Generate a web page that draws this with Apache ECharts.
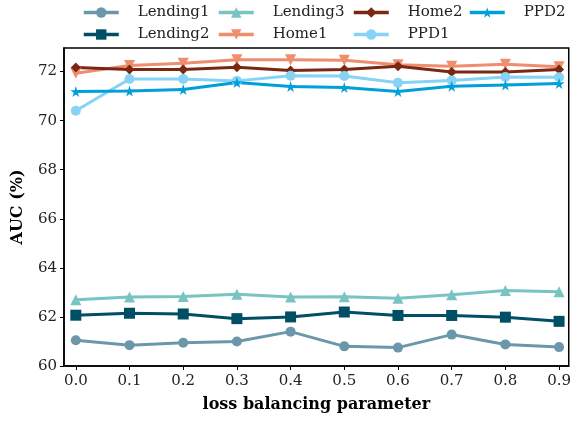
<!DOCTYPE html>
<html>
<head>
<meta charset="utf-8">
<script src="https://cdn.jsdelivr.net/npm/echarts@6/dist/echarts.min.js"></script>
<style>
  html, body { margin: 0; padding: 0; background: #fff; }
  #chart { width: 574px; height: 423px; }
</style>
</head>
<body>
<div id="chart"></div>
<script>
// Loss balancing parameter values (x)
const params = [0.0, 0.1, 0.2, 0.3, 0.4, 0.5, 0.6, 0.7, 0.8, 0.9];
const xTickLabels = ['0.0', '0.1', '0.2', '0.3', '0.4', '0.5', '0.6', '0.7', '0.8', '0.9'];
const yTicks = [60, 62, 64, 66, 68, 70, 72];

// AUC (%) per dataset
const lending1 = [61.05, 60.85, 60.95, 61.0, 61.40, 60.80, 60.75, 61.28, 60.88, 60.77];
const lending2 = [62.07, 62.15, 62.12, 61.93, 62.00, 62.20, 62.06, 62.06, 61.99, 61.82];
const lending3 = [62.70, 62.81, 62.83, 62.92, 62.81, 62.82, 62.76, 62.90, 63.08, 63.03];
const home1 = [71.93, 72.25, 72.34, 72.48, 72.48, 72.46, 72.28, 72.22, 72.30, 72.20];
const home2 = [72.17, 72.08, 72.08, 72.18, 72.04, 72.08, 72.22, 71.98, 71.98, 72.08];
const ppd1 = [70.40, 71.70, 71.70, 71.62, 71.83, 71.82, 71.54, 71.64, 71.78, 71.77];
const ppd2 = [71.19, 71.21, 71.27, 71.55, 71.39, 71.35, 71.19, 71.40, 71.45, 71.51];

const FONT = 'DejaVu Serif';
const STAR = 'path://M50,0 L61,35 L98,35 L68,57 L79,91 L50,70 L21,91 L32,57 L2,35 L39,35 Z';

const seriesDefs = [
  { name: 'Lending1', data: lending1, color: '#6b97ab', symbol: 'circle', size: 10 },
  { name: 'Lending2', data: lending2, color: '#004f65', symbol: 'rect', size: 11 },
  { name: 'Lending3', data: lending3, color: '#78c4c3', symbol: 'triangle', size: 11 },
  { name: 'Home1', data: home1, color: '#ef8d6f', symbol: 'triangle', size: 11, rotate: 180 },
  { name: 'Home2', data: home2, color: '#7a2812', symbol: 'diamond', size: 10 },
  { name: 'PPD1', data: ppd1, color: '#86d3f5', symbol: 'circle', size: 10 },
  { name: 'PPD2', data: ppd2, color: '#019fd9', symbol: STAR, size: 11 }
];

// legend slots: two rows, four columns, filled column by column
const legendSlots = {
  'Lending1': [82, 5], 'Lending2': [82, 27],
  'Lending3': [217, 5], 'Home1': [217, 27],
  'Home2': [352, 5], 'PPD1': [352, 27],
  'PPD2': [468, 5]
};

const legends = seriesDefs.map(s => ({
  data: [s.name],
  left: legendSlots[s.name][0],
  top: legendSlots[s.name][1],
  itemWidth: 35,
  itemHeight: 13,
  padding: 0,
  selectedMode: false,
  lineStyle: { width: 3.5 },
  textStyle: { fontFamily: FONT, fontSize: 15, color: '#222', padding: [0, 0, 0, 14] }
}));

const chart = echarts.init(document.getElementById('chart'), null, { renderer: 'canvas' });

chart.setOption({
  animation: false,
  backgroundColor: '#fff',
  legend: legends,
  grid: {
    left: 64, right: 2, top: 48, bottom: 57,
    show: true, borderColor: '#000', borderWidth: 1.5, backgroundColor: 'transparent'
  },
  xAxis: {
    type: 'value',
    min: -0.022,
    max: 0.918,
    name: 'loss balancing parameter',
    nameLocation: 'middle',
    nameGap: 31,
    nameTextStyle: { fontFamily: FONT, fontSize: 16, fontWeight: 'bold', color: '#000' },
    axisLine: { show: true, onZero: false, lineStyle: { color: '#000', width: 1.5 } },
    axisTick: { show: true, length: 4, lineStyle: { color: '#000' }, customValues: params },
    axisLabel: {
      fontFamily: FONT, fontSize: 15, color: '#222', margin: 8,
      customValues: params,
      formatter: v => xTickLabels[Math.round(v * 10)]
    },
    splitLine: { show: false }
  },
  yAxis: {
    type: 'value',
    min: 60,
    max: 72.96,
    name: 'AUC (%)',
    nameLocation: 'middle',
    nameGap: 38,
    nameTextStyle: { fontFamily: FONT, fontSize: 16, fontWeight: 'bold', color: '#000' },
    axisLine: { show: true, onZero: false, lineStyle: { color: '#000', width: 1.5 } },
    axisTick: { show: true, length: 4, lineStyle: { color: '#000' }, customValues: yTicks },
    axisLabel: { fontFamily: FONT, fontSize: 15, color: '#222', margin: 7, customValues: yTicks },
    splitLine: { show: false }
  },
  series: seriesDefs.map(s => ({
    name: s.name,
    type: 'line',
    data: params.map((p, i) => [p, s.data[i]]),
    symbol: s.symbol,
    symbolSize: s.size,
    symbolRotate: s.rotate || 0,
    showAllSymbol: true,
    color: s.color,
    lineStyle: { color: s.color, width: 3 },
    itemStyle: { color: s.color, borderWidth: 0 },
    emphasis: { disabled: true }
  }))
});
</script>
</body>
</html>
